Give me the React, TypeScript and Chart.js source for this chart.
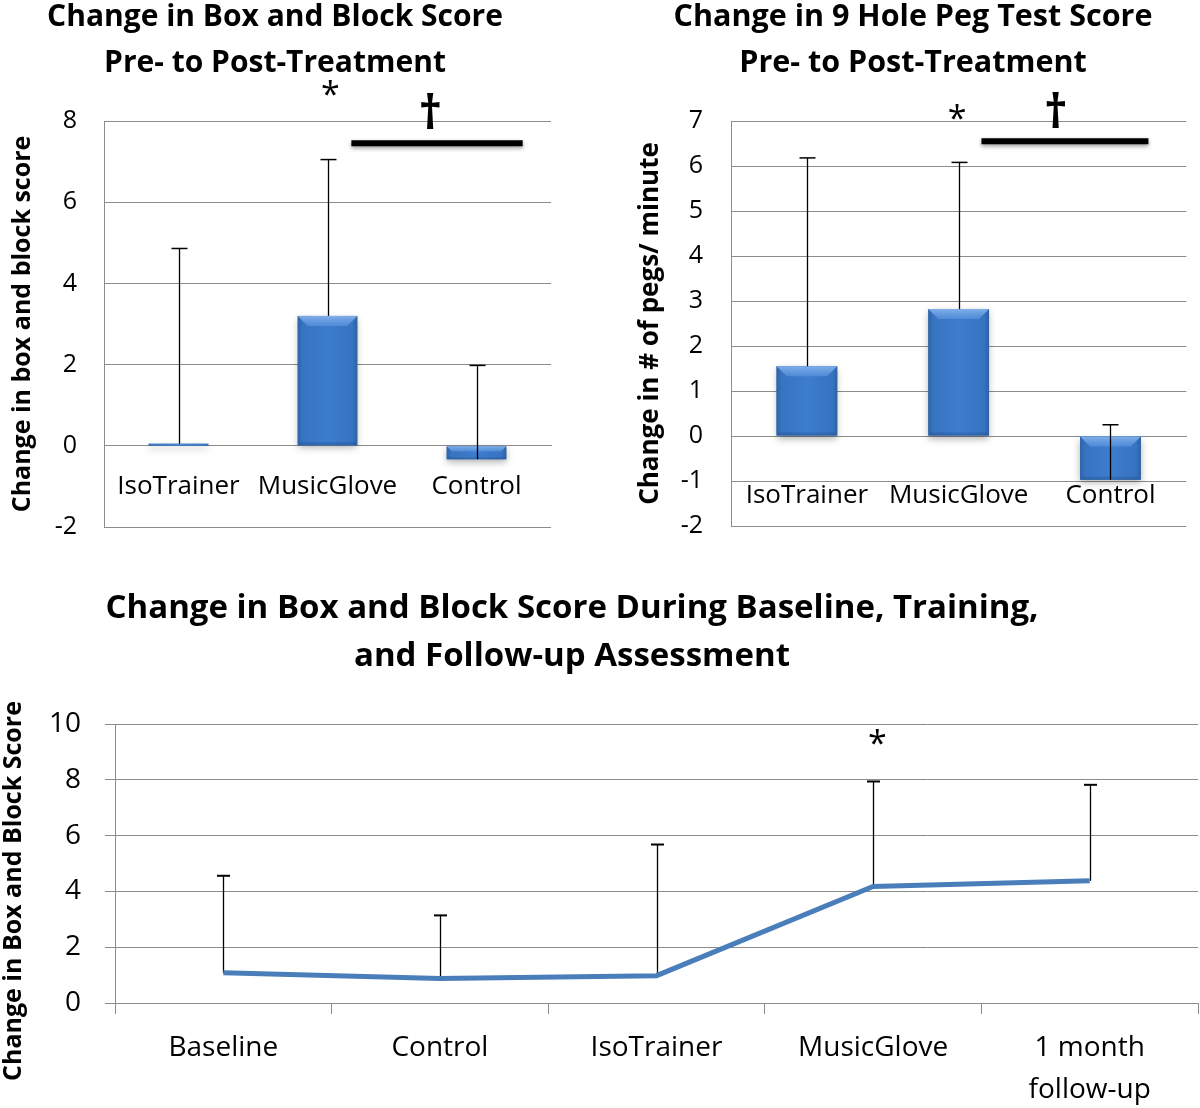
import React, { useEffect, useRef } from "react";
import { Chart, registerables } from "chart.js";

Chart.register(...registerables);

const FAMILY = "'Open Sans', Lato, 'DejaVu Sans', sans-serif";
const GRID = "#8c8c8c";
const BAR_BLUE = "#3c7acb";
const LINE_BLUE = "#4a7ebb";

// ---------- Panel A: Box and Block, pre to post ----------
const bbTitle = ["Change in Box and Block Score", "Pre- to Post-Treatment"];
const bbAxisTitle = "Change in box and block score";
const bbCategories = ["IsoTrainer", "MusicGlove", "Control"];
const bbMeans = [0.05, 3.2, -0.33];
const bbSD = [4.81, 3.85, 2.31];
const bbRange = [-2, 8];
const bbStep = 2;
const bbStar = [1.02, 8.81];
const bbDagger = [1.69, 8.25];
const bbSigBar = [1.16, 2.31, 7.45];

// ---------- Panel B: 9 Hole Peg Test ----------
const pegTitle = ["Change in 9 Hole Peg Test Score", "Pre- to Post-Treatment"];
const pegAxisTitle = "Change in # of pegs/ minute";
const pegCategories = ["IsoTrainer", "MusicGlove", "Control"];
const pegMeans = [1.55, 2.82, -0.97];
const pegSD = [4.63, 3.26, 1.22];
const pegRange = [-2, 7];
const pegStep = 1;
const pegStar = [0.99, 7.2];
const pegDagger = [1.64, 7.25];
const pegSigBar = [1.15, 2.25, 6.55];

// ---------- Panel C: Box and Block over phases ----------
const phaseTitle = [
  "Change in Box and Block Score During Baseline, Training,",
  "and Follow-up Assessment",
];
const phaseAxisTitle = "Change in Box and Block Score";
const phaseLabels: (string | string[])[] = [
  "Baseline",
  "Control",
  "IsoTrainer",
  "MusicGlove",
  ["1 month", "follow-up"],
];
const phaseMeans = [1.08, 0.88, 0.98, 4.18, 4.38];
const phaseSD = [3.48, 2.26, 4.7, 3.76, 3.44];
const phaseRange = [0, 10];
const phaseStep = 2;
const phaseStar = [3.02, 9.55];

// ---------- plugins ----------
const headingPlugin = {
  id: "heading",
  afterDraw(chart: any, _a: any, opts: any) {
    if (!opts) return;
    const ctx = chart.ctx;
    if (opts.lines) {
      ctx.save();
      ctx.font = opts.font;
      ctx.fillStyle = "#000";
      ctx.textAlign = "center";
      ctx.textBaseline = "middle";
      opts.lines.forEach((ln: string, k: number) => {
        ctx.fillText(ln, opts.cx, opts.y0 + k * opts.gap);
      });
      ctx.restore();
    }
    if (opts.side) {
      const sd = opts.side;
      ctx.save();
      ctx.font = sd.font;
      ctx.fillStyle = "#000";
      ctx.textAlign = "center";
      ctx.textBaseline = "middle";
      ctx.translate(sd.x, sd.y);
      ctx.rotate(-Math.PI / 2);
      ctx.fillText(sd.text, 0, 0);
      ctx.restore();
    }
  },
};

const bevelPlugin = {
  id: "bevel",
  afterDatasetDraw(chart: any, args: any, opts: any) {
    if (!opts || !opts.enabled) return;
    const meta = args.meta;
    if (meta.type !== "bar") return;
    const ctx = chart.ctx;
    meta.data.forEach((el: any) => {
      const p = el.getProps(["x", "y", "base", "width"], true);
      const l = p.x - p.width / 2;
      const r = p.x + p.width / 2;
      const t = Math.min(p.y, p.base);
      const b = Math.max(p.y, p.base);
      const h = Math.max(b - t, 2);
      ctx.save();
      ctx.shadowColor = "rgba(0,0,0,0.3)";
      ctx.shadowBlur = 7;
      ctx.shadowOffsetY = 3;
      const g = ctx.createLinearGradient(l, 0, r, 0);
      g.addColorStop(0, "#2e63a8");
      g.addColorStop(0.08, "#3773c0");
      g.addColorStop(0.5, "#3d7dce");
      g.addColorStop(0.92, "#3773c0");
      g.addColorStop(1, "#2d61a4");
      ctx.fillStyle = g;
      ctx.fillRect(l, t, r - l, h);
      ctx.restore();
      const d = Math.min(10, h * 0.4);
      const s = Math.min(3, h * 0.15);
      ctx.save();
      const tg = ctx.createLinearGradient(0, t, 0, t + d);
      tg.addColorStop(0, "rgba(140,185,240,0.85)");
      tg.addColorStop(1, "rgba(95,150,225,0.6)");
      ctx.fillStyle = tg;
      ctx.beginPath();
      ctx.moveTo(l, t);
      ctx.lineTo(r, t);
      ctx.lineTo(r - d, t + d);
      ctx.lineTo(l + d, t + d);
      ctx.closePath();
      ctx.fill();
      ctx.fillStyle = "rgba(30,70,125,0.3)";
      ctx.beginPath();
      ctx.moveTo(l, t + h);
      ctx.lineTo(r, t + h);
      ctx.lineTo(r - s, t + h - s);
      ctx.lineTo(l + s, t + h - s);
      ctx.closePath();
      ctx.fill();
      ctx.restore();
    });
  },
};

function drawErrorBars(chart: any, opts: any) {
  const { ctx, scales } = chart;
  const x = scales.x;
  const y = scales.y;
  const means = chart.data.datasets[0].data as number[];
  ctx.save();
  ctx.strokeStyle = "#000";
  means.forEach((m, i) => {
    const px = Math.round(x.getPixelForValue(i)) + 0.5;
    const y0 = y.getPixelForValue(m);
    const y1 = y.getPixelForValue(m + opts.sd[i]);
    ctx.lineWidth = opts.lineWidth;
    ctx.beginPath();
    ctx.moveTo(px, y0);
    ctx.lineTo(px, y1);
    ctx.stroke();
    ctx.lineWidth = opts.capWidth;
    ctx.beginPath();
    ctx.moveTo(px - opts.cap / 2, y1);
    ctx.lineTo(px + opts.cap / 2, y1);
    ctx.stroke();
  });
  ctx.restore();
}

const errorBarPlugin = {
  id: "errorBars",
  beforeDatasetsDraw(chart: any, _a: any, opts: any) {
    if (opts && opts.sd && opts.layer === "before") drawErrorBars(chart, opts);
  },
  afterDatasetsDraw(chart: any, _a: any, opts: any) {
    if (opts && opts.sd && opts.layer !== "before") drawErrorBars(chart, opts);
  },
};

const marksPlugin = {
  id: "marks",
  afterDraw(chart: any, _a: any, opts: any) {
    if (!opts) return;
    const { ctx, scales } = chart;
    const x = scales.x;
    const y = scales.y;
    ctx.save();
    (opts.bars || []).forEach((bar: number[]) => {
      ctx.save();
      ctx.strokeStyle = "#000";
      ctx.lineWidth = 6;
      ctx.shadowColor = "rgba(0,0,0,0.4)";
      ctx.shadowBlur = 4;
      ctx.shadowOffsetY = 2;
      const py = y.getPixelForValue(bar[2]);
      ctx.beginPath();
      ctx.moveTo(x.getPixelForValue(bar[0]), py);
      ctx.lineTo(x.getPixelForValue(bar[1]), py);
      ctx.stroke();
      ctx.restore();
    });
    (opts.texts || []).forEach((t: any) => {
      ctx.font = t.font;
      ctx.fillStyle = "#000";
      ctx.textAlign = "center";
      ctx.textBaseline = "alphabetic";
      const m = ctx.measureText(t.text);
      const cx = x.getPixelForValue(t.pos[0]);
      const cy = y.getPixelForValue(t.pos[1]);
      ctx.fillText(
        t.text,
        cx,
        cy + (m.actualBoundingBoxAscent - m.actualBoundingBoxDescent) / 2
      );
    });
    ctx.restore();
  },
};

// ---------- configs ----------
function barConfig(p: {
  title: string[];
  titleCx: number;
  titleSize: number;
  axisTitle: string;
  axisTitleSize: number;
  axisTitlePad: number;
  categories: string[];
  means: number[];
  sd: number[];
  range: number[];
  step: number;
  yWidth: number;
  tickPad: number;
  labelPad: number;
  padding: any;
  star: number[];
  dagger: number[];
  sigBar: number[];
}) {
  return {
    type: "bar",
    data: {
      labels: p.categories,
      datasets: [
        {
          data: p.means,
          backgroundColor: BAR_BLUE,
          borderWidth: 0,
          barPercentage: 0.8,
          categoryPercentage: 0.5,
        },
      ],
    },
    options: {
      responsive: false,
      animation: false,
      layout: { padding: p.padding },
      plugins: {
        legend: { display: false },
        tooltip: { enabled: false },
        title: { display: false },
        heading: {
          lines: p.title,
          cx: p.titleCx,
          y0: 17,
          gap: 46,
          font: `bold ${p.titleSize}px ${FAMILY}`,
        },
        bevel: { enabled: true },
        errorBars: { sd: p.sd, cap: 16, lineWidth: 1.3, capWidth: 1.5, layer: "after" },
        marks: {
          bars: [p.sigBar],
          texts: [
            { text: "*", pos: p.star, font: `34px ${FAMILY}` },
            { text: "\u2020", pos: p.dagger, font: `bold 46px ${FAMILY}` },
          ],
        },
      },
      scales: {
        x: {
          type: "category",
          position: { y: 0 },
          offset: true,
          grid: { display: false, drawTicks: false },
          border: { display: true, color: GRID },
          ticks: {
            color: "#000",
            padding: p.labelPad,
            maxRotation: 0,
            autoSkip: false,
            font: { family: FAMILY, size: 26 },
          },
        },
        y: {
          min: p.range[0],
          max: p.range[1],
          afterFit: (s: any) => {
            s.width = p.yWidth;
          },
          ticks: {
            stepSize: p.step,
            color: "#000",
            padding: p.tickPad,
            font: { family: FAMILY, size: 25 },
          },
          grid: { color: GRID, lineWidth: 1, drawTicks: false },
          border: { display: true, color: GRID },
          title: {
            display: true,
            text: p.axisTitle,
            color: "#000",
            padding: { top: p.axisTitlePad, bottom: 0 },
            font: { family: FAMILY, size: p.axisTitleSize, weight: "bold" },
          },
        },
      },
    },
    plugins: [headingPlugin, bevelPlugin, errorBarPlugin, marksPlugin],
  };
}

const configA = barConfig({
  title: bbTitle,
  titleCx: 275,
  titleSize: 30,
  axisTitle: bbAxisTitle,
  axisTitleSize: 25,
  axisTitlePad: 8,
  categories: bbCategories,
  means: bbMeans,
  sd: bbSD,
  range: bbRange,
  step: bbStep,
  yWidth: 104,
  tickPad: 27,
  labelPad: 25,
  padding: { top: 121, right: 9, bottom: 19, left: 0 },
  star: bbStar,
  dagger: bbDagger,
  sigBar: bbSigBar,
});

const configB = barConfig({
  title: pegTitle,
  titleCx: 313,
  titleSize: 30.5,
  axisTitle: pegAxisTitle,
  axisTitleSize: 26,
  axisTitlePad: 35,
  categories: pegCategories,
  means: pegMeans,
  sd: pegSD,
  range: pegRange,
  step: pegStep,
  yWidth: 131,
  tickPad: 28,
  labelPad: 44,
  padding: { top: 121, right: 3, bottom: 19, left: 0 },
  star: pegStar,
  dagger: pegDagger,
  sigBar: pegSigBar,
});

const configC = {
  type: "line",
  data: {
    labels: phaseLabels,
    datasets: [
      {
        data: phaseMeans,
        borderColor: LINE_BLUE,
        borderWidth: 5,
        pointRadius: 0,
        tension: 0,
        fill: false,
      },
    ],
  },
  options: {
    responsive: false,
    animation: false,
    layout: { padding: { top: 164, right: 2, bottom: 0, left: 0 } },
    plugins: {
      legend: { display: false },
      tooltip: { enabled: false },
      title: { display: false },
      heading: {
        lines: phaseTitle,
        cx: 572,
        y0: 49,
        gap: 48,
        font: `bold 33px ${FAMILY}`,
        side: {
          text: phaseAxisTitle,
          x: 14,
          y: 331,
          font: `bold 25px ${FAMILY}`,
        },
      },
      errorBars: { sd: phaseSD, cap: 13, lineWidth: 1.3, capWidth: 2, layer: "before" },
      marks: {
        texts: [{ text: "*", pos: phaseStar, font: `34px ${FAMILY}` }],
      },
    },
    scales: {
      x: {
        type: "category",
        offset: true,
        afterFit: (s: any) => {
          s.height = 105;
        },
        grid: {
          display: true,
          offset: true,
          drawOnChartArea: false,
          drawTicks: true,
          tickLength: 11,
          color: GRID,
        },
        border: { display: true, color: GRID },
        ticks: {
          color: "#000",
          padding: 13,
          maxRotation: 0,
          autoSkip: false,
          font: { family: FAMILY, size: 28, lineHeight: 1.5 },
        },
      },
      y: {
        min: phaseRange[0],
        max: phaseRange[1],
        afterFit: (s: any) => {
          s.width = 115;
        },
        ticks: {
          stepSize: phaseStep,
          color: "#000",
          padding: 24,
          font: { family: FAMILY, size: 28 },
        },
        grid: { color: GRID, lineWidth: 1, drawTicks: true, tickLength: 10 },
        border: { display: true, color: GRID },
        title: { display: false },
      },
    },
  },
  plugins: [headingPlugin, errorBarPlugin, marksPlugin],
};

function ChartBox(props: { config: any; left: number; top: number; width: number; height: number }) {
  const ref = useRef<HTMLCanvasElement>(null);
  useEffect(() => {
    const chart = new Chart(ref.current as HTMLCanvasElement, props.config);
    return () => chart.destroy();
  }, []);
  return (
    <div
      style={{
        position: "absolute",
        left: props.left,
        top: props.top,
        width: props.width,
        height: props.height,
      }}
    >
      <canvas
        ref={ref}
        width={props.width}
        height={props.height}
        style={{ width: props.width, height: props.height, display: "block" }}
      />
    </div>
  );
}

export default function App() {
  return (
    <div
      style={{
        position: "absolute",
        left: 0,
        top: 0,
        width: 1200,
        height: 1108,
        background: "#fff",
        overflow: "hidden",
      }}
    >
      <ChartBox config={configA} left={0} top={0} width={560} height={569} />
      <ChartBox config={configB} left={600} top={0} width={600} height={569} />
      <ChartBox config={configC} left={0} top={560} width={1200} height={548} />
    </div>
  );
}
